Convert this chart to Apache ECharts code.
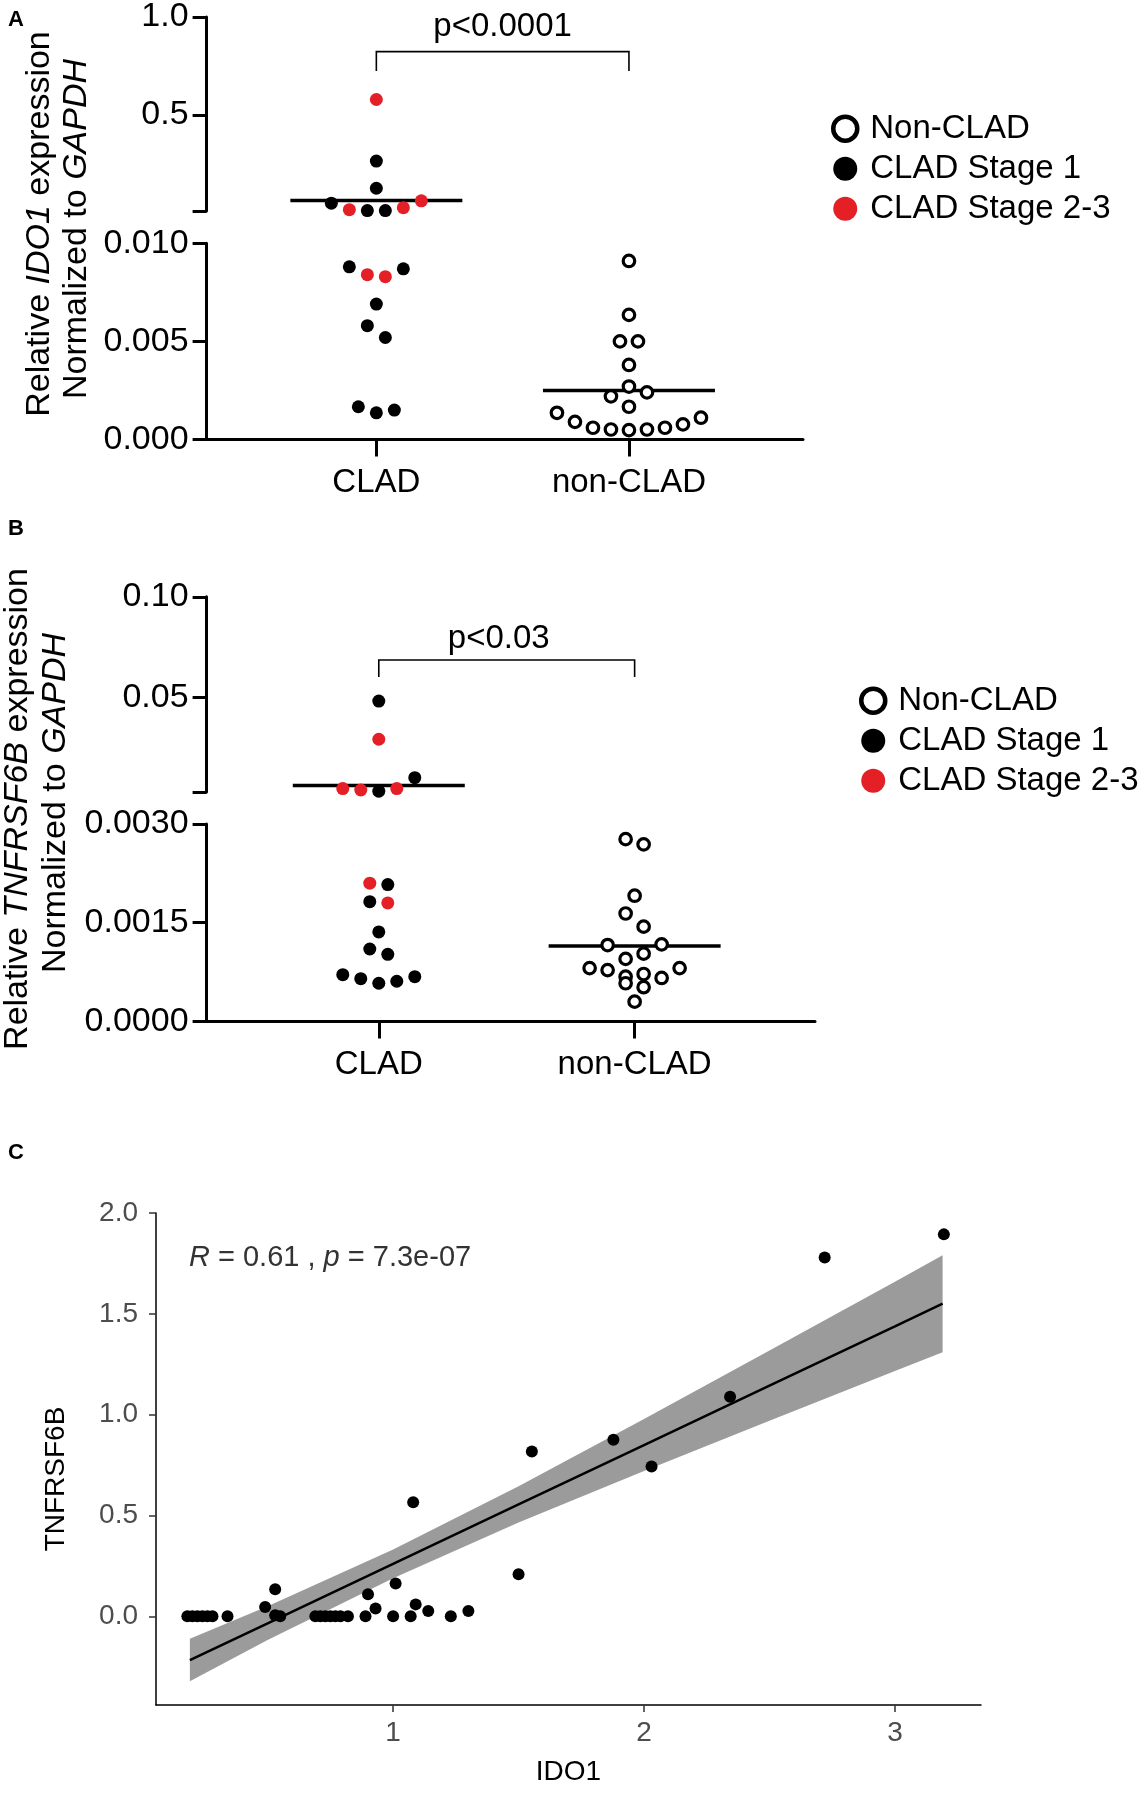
<!DOCTYPE html>
<html><head><meta charset="utf-8">
<script src="https://cdn.jsdelivr.net/npm/echarts@6/dist/echarts.min.js"></script>
<style>html,body{margin:0;padding:0;background:#fff}#chart{width:1143px;height:1800px}</style>
</head><body><div id="chart"></div>
<script>
// ================= DATA =================
const groups = ['CLAD', 'non-CLAD'];
const legendNames = ['Non-CLAD', 'CLAD Stage 1', 'CLAD Stage 2-3'];

// Panel A: relative IDO1 expression (rows of the dot plot, left to right)
const ido1Clad = [[0.579], [0.265], [0.126], [0.050, 0.017, 0.012, 0.012, 0.027, 0.062],
  [0.0088, 0.0084, 0.0083, 0.0087], [0.0069], [0.0058, 0.0052], [0.00167, 0.00136, 0.0015]];
const ido1CladStage = [[2], [1], [1], [1, 2, 1, 1, 2, 2], [1, 2, 2, 1], [1], [1, 1], [1, 1, 1]];
const ido1NonClad = [[0.0091], [0.00635], [0.005, 0.005], [0.0038], [0.0022, 0.0027, 0.0024], [0.00167],
  [0.00136, 0.0009, 0.0006, 0.00051, 0.00048, 0.00051, 0.0006, 0.00077, 0.00111]];
const ido1Break = 0.01, ido1Top = 1.0;
const ido1UpperTicks = [0.5, 1.0];
const ido1LowerTicks = [0, 0.005, 0.010];
const ido1P = 'p<0.0001';

// Panel B: relative TNFRSF6B expression
const tnfClad = [[0.0482], [0.0292], [0.0047, 0.0040, 0.0034, 0.0047, 0.0101],
  [0.0021, 0.00208], [0.00182, 0.0018], [0.00136], [0.0011, 0.00102], [0.00071, 0.00065, 0.00058, 0.00061, 0.00068]];
const tnfCladStage = [[1], [2], [2, 2, 1, 2, 1], [2, 1], [1, 2], [1], [1, 1], [1, 1, 1, 1, 1]];
const tnfNonClad = [[0.00277, 0.00269], [0.00191], [0.00164, 0.00144], [0.00116, 0.00095, 0.00103, 0.00117],
  [0.00081, 0.00078, 0.00068, 0.00072, 0.00066, 0.00081], [0.00058, 0.00052], [0.0003]];
const tnfBreak = 0.003, tnfTop = 0.10;
const tnfUpperTicks = [0.05, 0.10];
const tnfLowerTicks = [0, 0.0015, 0.0030];
const tnfP = 'p<0.03';

// Panel C: correlation
const corrIdo1 = [0.18, 0.20, 0.22, 0.24, 0.26, 0.28, 0.34, 0.69, 0.71, 0.73, 0.75, 0.77, 0.79, 0.82,
  0.53, 0.55, 0.49, 0.53, 0.89, 0.93, 0.90, 1.00, 1.01, 1.07, 1.09, 1.14, 1.23, 1.30,
  1.08, 1.50, 1.553, 1.878, 2.03, 2.343, 2.72, 3.195];
const corrTnf = [0, 0, 0, 0, 0, 0, 0, 0, 0, 0, 0, 0, 0, 0,
  0.005, 0, 0.046, 0.134, 0, 0.038, 0.109, 0, 0.162, 0, 0.059, 0.026, 0, 0.026,
  0.566, 0.208, 0.817, 0.875, 0.743, 1.089, 1.779, 1.894];
const fitX = [0.19, 0.5, 1.0, 1.5, 2.0, 2.5, 3.0, 3.19];
const fitY = [-0.217, -0.035, 0.26, 0.555, 0.849, 1.144, 1.438, 1.55];
const bandLow = [-0.322, -0.118, 0.189, 0.465, 0.72, 0.97, 1.217, 1.31];
const bandHigh = [-0.112, 0.05, 0.331, 0.645, 0.978, 1.318, 1.659, 1.79];
const corrXTicks = [1, 2, 3];
const corrYTicks = [0, 0.5, 1.0, 1.5, 2.0];
const corrStat = { R: '0.61', p: '7.3e-07' };

// ================= LAYOUT / STYLE =================
const FF = '"Liberation Sans", Arial, Helvetica, sans-serif';
const RED = '#e41f26';
const SWARM_PX = 18;      // horizontal spacing of dots in a row
const MEAN_HALF_PX = 86;  // half width of mean line

const panels = [
  { up: { left: 206.6, top: 16, width: 596.4, height: 195 }, lo: { left: 206.6, top: 243.3, width: 596.4, height: 196.2 },
    xMin: 0.328, xMax: 2.689, clad: ido1Clad, stage: ido1CladStage, non: ido1NonClad, brk: ido1Break, top: ido1Top,
    upTicks: ido1UpperTicks, loTicks: ido1LowerTicks, upDec: 1, loDec: 3 },
  { up: { left: 206.6, top: 596.8, width: 608.4, height: 195.2 }, lo: { left: 206.6, top: 824, width: 608.4, height: 197.4 },
    xMin: 0.327, xMax: 2.705, clad: tnfClad, stage: tnfCladStage, non: tnfNonClad, brk: tnfBreak, top: tnfTop,
    upTicks: tnfUpperTicks, loTicks: tnfLowerTicks, upDec: 2, loDec: 4 }
];

const grids = [], xAxes = [], yAxes = [], series = [];

panels.forEach((p, k) => {
  const gUp = grids.length, gLo = gUp + 1;
  grids.push(p.up, p.lo);
  const ppu = p.lo.width / (p.xMax - p.xMin);
  xAxes.push({ gridIndex: gUp, type: 'value', min: p.xMin, max: p.xMax, show: false });
  xAxes.push({ gridIndex: gLo, type: 'value', min: p.xMin, max: p.xMax,
    axisLine: { onZero: false, lineStyle: { color: '#000', width: 3 } },
    axisTick: { customValues: [1, 2], length: 17, lineStyle: { color: '#000', width: 3 } },
    axisLabel: { customValues: [1, 2], formatter: v => groups[Math.round(v) - 1], fontSize: 33, fontFamily: FF, color: '#000', margin: 27 },
    splitLine: { show: false } });
  yAxes.push({ gridIndex: gUp, type: 'value', min: p.brk, max: p.top,
    axisLine: { show: true, lineStyle: { color: '#000', width: 3 } },
    axisTick: { show: true, customValues: [p.brk].concat(p.upTicks), length: 14, lineStyle: { color: '#000', width: 3 } },
    axisLabel: { customValues: p.upTicks, formatter: v => v.toFixed(p.upDec), fontSize: 34, fontFamily: FF, color: '#000', margin: 18 },
    splitLine: { show: false } });
  yAxes.push({ gridIndex: gLo, type: 'value', min: 0, max: p.brk,
    axisLine: { show: true, lineStyle: { color: '#000', width: 3 } },
    axisTick: { show: true, customValues: p.loTicks, length: 14, lineStyle: { color: '#000', width: 3 } },
    axisLabel: { customValues: p.loTicks, formatter: v => v.toFixed(p.loDec), fontSize: 34, fontFamily: FF, color: '#000', margin: 18 },
    splitLine: { show: false } });

  const b = { up: { s1: [], s23: [], non: [] }, lo: { s1: [], s23: [], non: [] } };
  const allClad = [], allNon = [];
  p.clad.forEach((row, r) => row.forEach((v, i) => {
    const x = 1 + (i - (row.length - 1) / 2) * SWARM_PX / ppu;
    const bk = v > p.brk ? b.up : b.lo;
    (p.stage[r][i] === 1 ? bk.s1 : bk.s23).push([x, v]);
    allClad.push(v);
  }));
  p.non.forEach(row => row.forEach((v, i) => {
    const x = 2 + (i - (row.length - 1) / 2) * SWARM_PX / ppu;
    (v > p.brk ? b.up : b.lo).non.push([x, v]);
    allNon.push(v);
  }));
  const hw = MEAN_HALF_PX / ppu;
  [[1, allClad], [2, allNon]].forEach(([c, arr]) => {
    const m = arr.reduce((s, v) => s + v, 0) / arr.length;
    const g = m > p.brk ? gUp : gLo;
    series.push({ type: 'line', xAxisIndex: g, yAxisIndex: g, data: [[c - hw, m], [c + hw, m]],
      symbol: 'none', silent: true, z: 2, lineStyle: { color: '#000', width: 3.5 } });
  });
  [['up', gUp], ['lo', gLo]].forEach(([key, g]) => {
    series.push({ name: 'CLAD Stage 1', type: 'scatter', xAxisIndex: g, yAxisIndex: g, data: b[key].s1,
      symbolSize: 13, itemStyle: { color: '#000', opacity: 1 }, z: 3, silent: true });
    series.push({ name: 'CLAD Stage 2-3', type: 'scatter', xAxisIndex: g, yAxisIndex: g, data: b[key].s23,
      symbolSize: 13, itemStyle: { color: RED, opacity: 1 }, z: 3, silent: true });
    series.push({ name: 'Non-CLAD', type: 'scatter', xAxisIndex: g, yAxisIndex: g, data: b[key].non,
      symbolSize: 11.5, itemStyle: { color: '#fff', borderColor: '#000', borderWidth: 3.2, opacity: 1 }, z: 3, silent: true });
  });
});

// Panel C
const gC = grids.length;
grids.push({ left: 156, top: 1213, width: 825, height: 492 });
xAxes.push({ gridIndex: gC, type: 'value', min: 0.055, max: 3.343,
  axisLine: { onZero: false, lineStyle: { color: '#000', width: 1.5 } },
  axisTick: { customValues: corrXTicks, length: 7, lineStyle: { color: '#333', width: 1.5 } },
  axisLabel: { customValues: corrXTicks, fontSize: 28, fontFamily: FF, color: '#4d4d4d', margin: 14 },
  splitLine: { show: false },
  name: 'IDO1', nameLocation: 'middle', nameGap: 53, nameTextStyle: { fontSize: 28, fontFamily: FF, color: '#000' } });
yAxes.push({ gridIndex: gC, type: 'value', min: -0.44, max: 2.0,
  axisLine: { show: true, onZero: false, lineStyle: { color: '#000', width: 1.5 } },
  axisTick: { show: true, customValues: corrYTicks, length: 7, lineStyle: { color: '#333', width: 1.5 } },
  axisLabel: { customValues: corrYTicks, formatter: v => v.toFixed(1), fontSize: 28, fontFamily: FF, color: '#4d4d4d', margin: 18 },
  splitLine: { show: false },
  name: 'TNFRSF6B', nameLocation: 'middle', nameGap: 86, nameRotate: 90,
  nameTextStyle: { fontSize: 28, fontFamily: FF, color: '#000', padding: [0, 40, 0, 0] } });

series.push({ type: 'custom', xAxisIndex: gC, yAxisIndex: gC, silent: true, z: 1,
  data: fitX.map((x, i) => [x, bandLow[i], bandHigh[i]]),
  encode: { x: 0, y: [1, 2] },
  renderItem: (params, api) => {
    if (params.dataIndex !== 0) return null;
    const pts = [];
    for (let i = 0; i < fitX.length; i++) pts.push(api.coord([fitX[i], bandHigh[i]]));
    for (let i = fitX.length - 1; i >= 0; i--) pts.push(api.coord([fitX[i], bandLow[i]]));
    return { type: 'polygon', shape: { points: pts }, style: { fill: '#9b9b9b' } };
  } });
series.push({ type: 'line', xAxisIndex: gC, yAxisIndex: gC, data: fitX.map((x, i) => [x, fitY[i]]),
  symbol: 'none', silent: true, z: 2, lineStyle: { color: '#000', width: 2.5 } });
series.push({ type: 'scatter', xAxisIndex: gC, yAxisIndex: gC, data: corrIdo1.map((x, i) => [x, corrTnf[i]]),
  symbolSize: 12, itemStyle: { color: '#000', opacity: 1 }, z: 3, silent: true });

function legendFor(left, top) {
  return { left: left, top: top, orient: 'vertical', itemWidth: 24, itemHeight: 24, itemGap: 0, selectedMode: false,
    data: [
      { name: legendNames[0], icon: 'circle', itemStyle: { color: '#fff', borderColor: '#000', borderWidth: 4.5, opacity: 1 } },
      { name: legendNames[1], icon: 'circle', itemStyle: { color: '#000', opacity: 1 } },
      { name: legendNames[2], icon: 'circle', itemStyle: { color: RED, opacity: 1 } }],
    textStyle: { fontSize: 33, fontFamily: FF, color: '#000', lineHeight: 40, padding: [0, 0, 0, 8] } };
}

function txt(x, y, text, size, opts) {
  return Object.assign({ type: 'text', x: x, y: y, silent: true,
    style: Object.assign({ text: text, fontSize: size, fontFamily: FF, fill: '#000', align: 'center', verticalAlign: 'middle' }, (opts && opts.style) || {}) },
    (opts && opts.el) || {});
}
function richTitle(x, y, parts, size, rot) {
  const text = parts.map(([s, it]) => '{' + (it ? 'i' : 'n') + '|' + s + '}').join('');
  return { type: 'text', x: x, y: y, rotation: rot, silent: true,
    style: { text: text, align: 'center', verticalAlign: 'middle', fontSize: size, fontFamily: FF, fill: '#000',
      rich: { n: { fontSize: size, fontFamily: FF, fill: '#000' }, i: { fontSize: size, fontFamily: FF, fontStyle: 'italic', fill: '#000' } } } };
}

const chart = echarts.init(document.getElementById('chart'), null, { renderer: 'canvas' });
chart.setOption({
  animation: false,
  backgroundColor: '#fff',
  grid: grids, xAxis: xAxes, yAxis: yAxes, series: series,
  legend: [legendFor(826, 103.7), legendFor(854, 675.7)]
});

const R90 = Math.PI / 2;
const xa1 = chart.convertToPixel({ xAxisIndex: 1 }, 1), xa2 = chart.convertToPixel({ xAxisIndex: 1 }, 2);
const xb1 = chart.convertToPixel({ xAxisIndex: 3 }, 1), xb2 = chart.convertToPixel({ xAxisIndex: 3 }, 2);
const graphics = [
  txt(16, 20, 'A', 22, { style: { fontWeight: 'bold' } }),
  txt(16, 529, 'B', 22, { style: { fontWeight: 'bold' } }),
  txt(16, 1153, 'C', 22, { style: { fontWeight: 'bold' } }),
  richTitle(40, 224, [['Relative ', 0], ['IDO1', 1], [' expression', 0]], 34, R90),
  richTitle(77, 229, [['Normalized to ', 0], ['GAPDH', 1]], 34, R90),
  richTitle(18, 809, [['Relative ', 0], ['TNFRSF6B', 1], [' expression', 0]], 34, R90),
  richTitle(56, 803, [['Normalized to ', 0], ['GAPDH', 1]], 34, R90),
  { type: 'polyline', silent: true, shape: { points: [[xa1, 71], [xa1, 51.6], [xa2, 51.6], [xa2, 71]] }, style: { stroke: '#000', lineWidth: 1.6, fill: null } },
  { type: 'polyline', silent: true, shape: { points: [[xb1, 677], [xb1, 660], [xb2, 660], [xb2, 677]] }, style: { stroke: '#000', lineWidth: 1.6, fill: null } },
  txt((xa1 + xa2) / 2, 27, ido1P, 33),
  txt((xb1 + xb2) / 2 - 8, 639, tnfP, 33),
  { type: 'text', x: 189, y: 1258, silent: true,
    style: { text: '{i|R}{n| = ' + corrStat.R + ' , }{i|p}{n| = ' + corrStat.p + '}', align: 'left', verticalAlign: 'middle', fontSize: 29, fontFamily: FF, fill: '#333',
      rich: { n: { fontSize: 29, fontFamily: FF, fill: '#333' }, i: { fontSize: 29, fontFamily: FF, fontStyle: 'italic', fill: '#333' } } } }
];
chart.setOption({ graphic: graphics });
</script>
</body></html>
